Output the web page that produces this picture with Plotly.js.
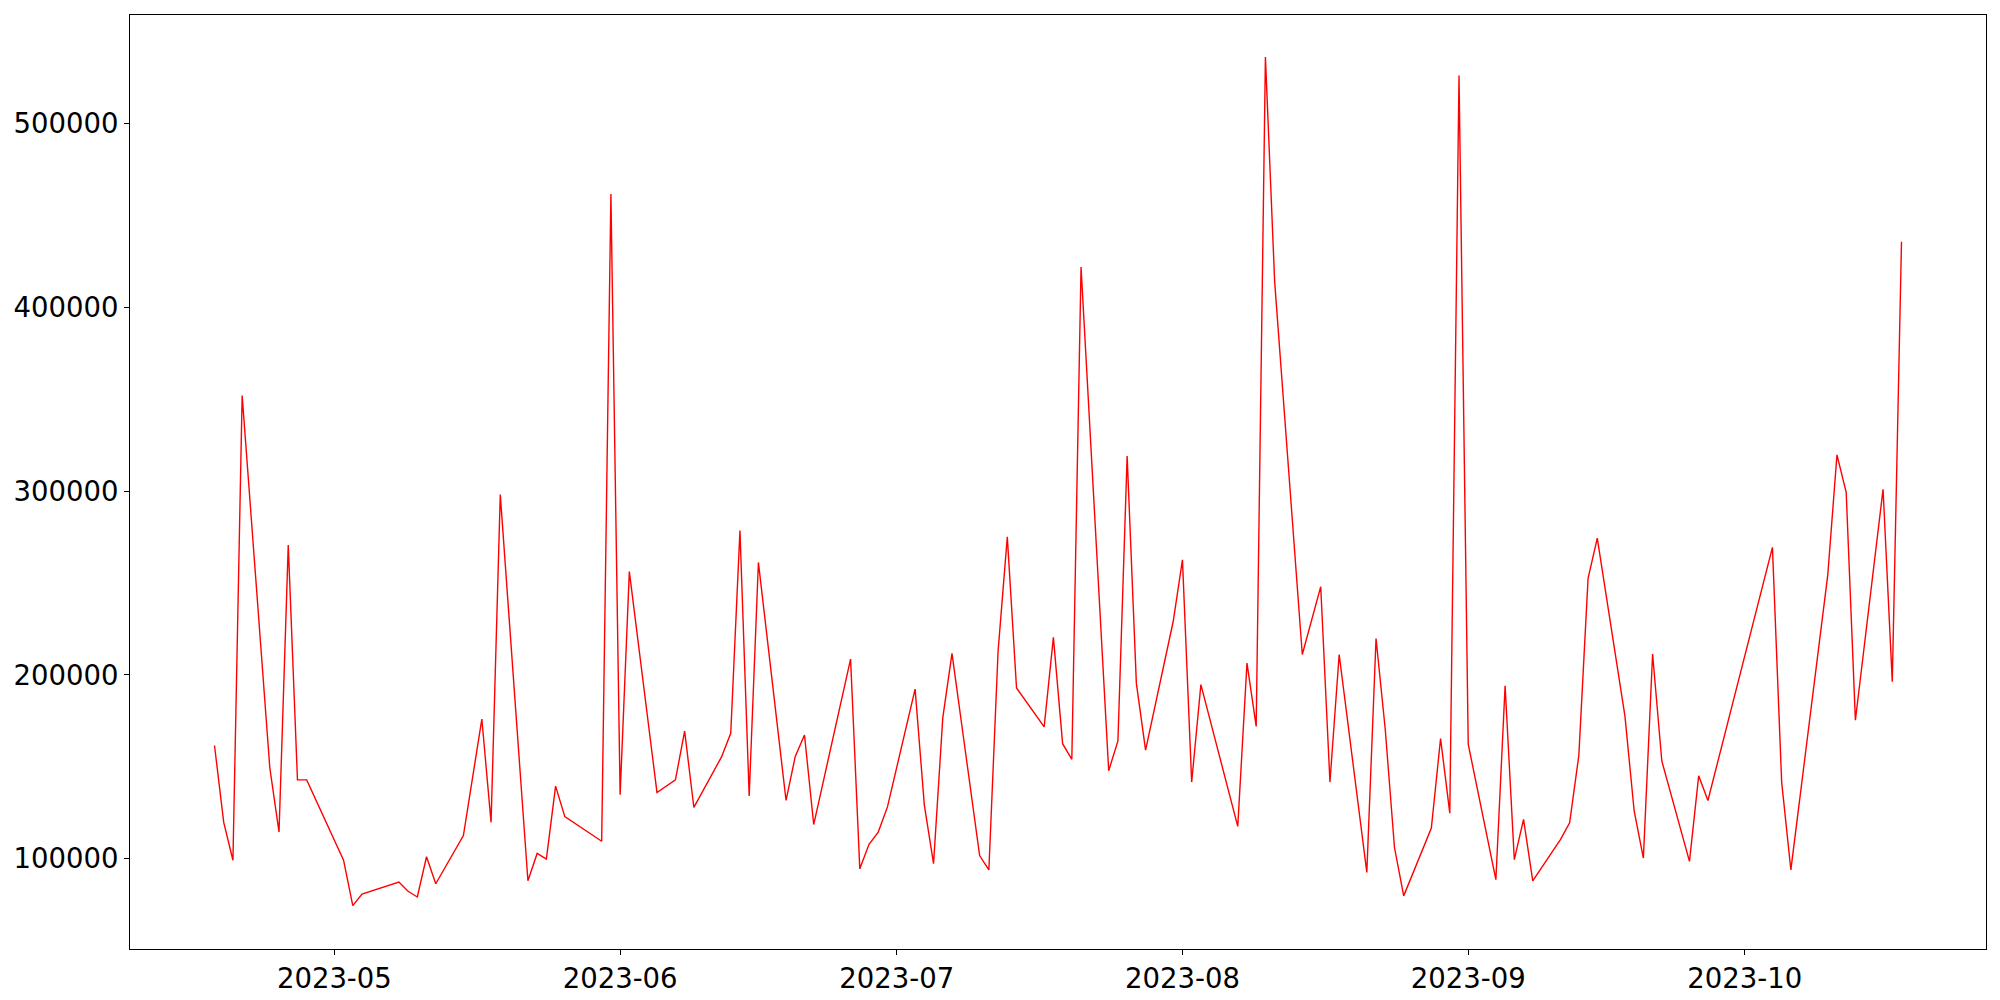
<!DOCTYPE html>
<html>
<head>
<meta charset="utf-8">
<script src="https://cdn.plot.ly/plotly-3.0.1.min.js"></script>
<style>html,body{margin:0;padding:0;background:#fff;}#chart{width:2000px;height:1000px;}</style>
</head>
<body>
<div id="chart"></div>
<script>
const dates = [
  '2023-04-18','2023-04-19','2023-04-20','2023-04-21','2023-04-24','2023-04-25','2023-04-26','2023-04-27','2023-04-28',
  '2023-05-02','2023-05-03','2023-05-04','2023-05-08','2023-05-09','2023-05-10','2023-05-11','2023-05-12','2023-05-15','2023-05-17','2023-05-18','2023-05-19','2023-05-22','2023-05-23','2023-05-24','2023-05-25','2023-05-26','2023-05-30','2023-05-31',
  '2023-06-01','2023-06-02','2023-06-05','2023-06-07','2023-06-08','2023-06-09','2023-06-12','2023-06-13','2023-06-14','2023-06-15','2023-06-16','2023-06-19','2023-06-20','2023-06-21','2023-06-22','2023-06-26','2023-06-27','2023-06-28','2023-06-29','2023-06-30',
  '2023-07-03','2023-07-04','2023-07-05','2023-07-06','2023-07-07','2023-07-10','2023-07-11','2023-07-12','2023-07-13','2023-07-14','2023-07-17','2023-07-18','2023-07-19','2023-07-20','2023-07-21','2023-07-24','2023-07-25','2023-07-26','2023-07-27','2023-07-28','2023-07-31',
  '2023-08-01','2023-08-02','2023-08-03','2023-08-07','2023-08-08','2023-08-09','2023-08-10','2023-08-11','2023-08-14','2023-08-16','2023-08-17','2023-08-18','2023-08-21','2023-08-22','2023-08-23','2023-08-24','2023-08-25','2023-08-28','2023-08-29','2023-08-30','2023-08-31',
  '2023-09-01','2023-09-04','2023-09-05','2023-09-06','2023-09-07','2023-09-08','2023-09-11','2023-09-12','2023-09-13','2023-09-14','2023-09-15','2023-09-18','2023-09-19','2023-09-20','2023-09-21','2023-09-22','2023-09-25','2023-09-26','2023-09-27',
  '2023-10-04','2023-10-05','2023-10-06','2023-10-10','2023-10-11','2023-10-12','2023-10-13','2023-10-16','2023-10-17','2023-10-18'
];
const values = [
  161600,119800,99200,352000,149500,114500,270600,142900,142900,
  99200,74500,80800,87300,82300,79200,101100,86400,112600,176000,119800,298100,88000,102900,99800,139500,122900,109500,461600,
  134800,256200,136000,142900,169400,127900,155400,168200,278500,134200,261200,131700,155700,167300,118600,208600,94500,107900,114500,128200,
  192300,129200,97300,176600,211700,101700,93900,212900,275100,192900,171700,220400,162600,154100,421900,147900,164100,319100,195400,159100,229200,
  262600,141700,194700,117600,206400,172000,536100,414100,211100,248000,141700,211100,92600,219800,170300,106100,79800,116700,165400,124800,526100,
  162300,88600,194100,99500,121400,88000,110400,119500,156300,252500,274400,177600,126000,100400,211400,153200,98600,145100,131700,
  269400,141700,93900,254300,319700,299300,175400,301000,196300,435600
];
const yTicks = [100000, 200000, 300000, 400000, 500000];
const xTicks = ['2023-05-01','2023-06-01','2023-07-01','2023-08-01','2023-09-01','2023-10-01'];
const xTickText = ['2023-05','2023-06','2023-07','2023-08','2023-09','2023-10'];

const font = {family: 'DejaVu Sans', size: 27.5, color: '#000'};
const trace = {
  x: dates, y: values, type: 'scatter', mode: 'lines',
  line: {color: '#ff0000', width: 1.4}, hoverinfo: 'skip'
};
const layout = {
  width: 2000, height: 1000,
  margin: {l: 130, r: 14, t: 15, b: 51},
  paper_bgcolor: '#fff', plot_bgcolor: '#fff',
  showlegend: false,
  font: font,
  xaxis: {
    type: 'date',
    range: ['2023-04-08 20:00', '2023-10-27 04:00'],
    tickvals: xTicks, ticktext: xTickText,
    ticks: 'outside', ticklen: 5, tickwidth: 1, tickcolor: '#000',
    showgrid: false, zeroline: false,
    showline: true, mirror: true, linecolor: '#000', linewidth: 1,
    tickfont: font
  },
  yaxis: {
    range: [50900, 559000],
    tickvals: yTicks, tickformat: 'd',
    ticks: 'outside', ticklen: 5, tickwidth: 1, tickcolor: '#000',
    showgrid: false, zeroline: false,
    showline: true, mirror: true, linecolor: '#000', linewidth: 1,
    tickfont: font
  }
};
Plotly.newPlot('chart', [trace], layout, {displayModeBar: false, staticPlot: true});
</script>
</body>
</html>
